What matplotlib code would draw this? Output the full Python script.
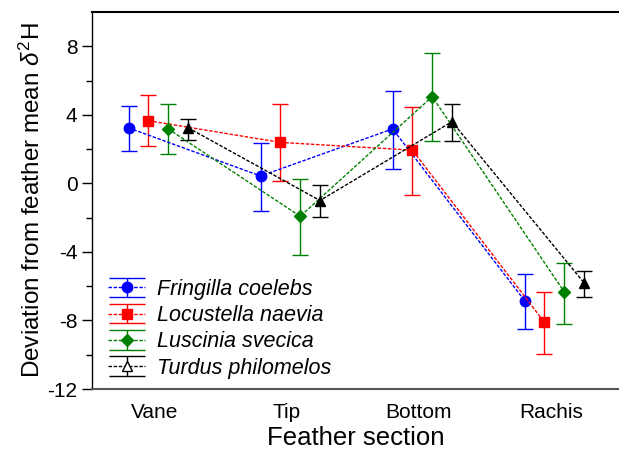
import numpy as np
import matplotlib.pyplot as plt
from matplotlib.legend_handler import HandlerErrorbar

plt.rcParams['font.family'] = ['Liberation Sans', 'DejaVu Sans']
plt.rcParams['mathtext.fontset'] = 'custom'
plt.rcParams['mathtext.rm'] = 'Liberation Sans'
plt.rcParams['mathtext.it'] = 'Liberation Sans:italic'
plt.rcParams['axes.unicode_minus'] = False

sections = ['Vane', 'Tip', 'Bottom', 'Rachis']
species = ['Fringilla coelebs', 'Locustella naevia', 'Luscinia svecica', 'Turdus philomelos']

# mean deviation and error bar ends (upper, lower) per species
means = {
    'Fringilla coelebs': [3.24, 0.43, 3.18, -6.84],
    'Locustella naevia': [3.66, 2.39, 1.94, -8.10],
    'Luscinia svecica':  [3.18, -1.92, 5.06, -6.33],
    'Turdus philomelos': [3.25, -1.00, 3.60, -5.80],
}
upper = {
    'Fringilla coelebs': [4.53, 2.37, 5.41, -5.31],
    'Locustella naevia': [5.14, 4.61, 4.43, -6.33],
    'Luscinia svecica':  [4.63, 0.25, 7.59, -4.63],
    'Turdus philomelos': [3.76, -0.08, 4.65, -5.12],
}
lower = {
    'Fringilla coelebs': [1.88, -1.63, 0.82, -8.51],
    'Locustella naevia': [2.20, 0.16, -0.69, -9.94],
    'Luscinia svecica':  [1.69, -4.20, 2.47, -8.20],
    'Turdus philomelos': [2.51, -1.98, 2.47, -6.65],
}

colors = ['#0000ff', '#ff0000', '#008000', '#000000']
markers = ['o', 's', 'D', '^']
msizes = [7.5, 7.5, 6, 7.5]
offsets = [-0.2, -0.05, 0.1, 0.25]

fig = plt.figure(figsize=(6.19, 4.55), dpi=100)
ax = fig.add_axes([0.1486, 0.145, 0.8514, 0.8286])

x = np.arange(len(sections))
handles = []
for sp, c, m, ms, off in zip(species, colors, markers, msizes, offsets):
    y = np.array(means[sp])
    err = [y - np.array(lower[sp]), np.array(upper[sp]) - y]
    ax.errorbar(x + off, y, yerr=err, color=c, marker=m, ms=ms, mec=c, mfc=c,
                ls=(0, (2.5, 1.2)), lw=1, elinewidth=1, capsize=5.5, capthick=1)
    # legend entry (open marker for the last species, as in the original)
    mfc = 'white' if sp == 'Turdus philomelos' else c
    h = ax.errorbar([np.nan], [np.nan], yerr=[1], color=c, marker=m, ms=ms, mec=c,
                    mfc=mfc, ls=(0, (2.5, 1.2)), lw=1, elinewidth=1,
                    capsize=13, capthick=1)
    handles.append(h)

ax.set_xlim(-0.477, 3.515)
ax.set_ylim(-12, 10)
ax.set_xticks(x)
ax.set_xticklabels(sections)
ax.set_yticks([-12, -8, -4, 0, 4, 8])
ax.set_yticks(np.arange(-12, 10, 2), minor=True)
ax.tick_params(axis='x', length=0, labelsize=15, pad=10)
ax.tick_params(axis='y', which='major', length=7, width=1, labelsize=15, direction='out')
ax.tick_params(axis='y', which='minor', length=4, width=1, direction='out')

ax.spines['right'].set_visible(False)
ax.spines['bottom'].set_color('#555555')
ax.spines['bottom'].set_linewidth(1.5)
ax.spines['top'].set_linewidth(1.5)
ax.spines['left'].set_linewidth(1)

ax.set_xlabel('Feather section', fontsize=18.5, labelpad=3)
ax.set_ylabel(r'Deviation from feather mean $\mathit{\delta}^2$H', fontsize=17.5, labelpad=2)

leg = ax.legend(handles, species, loc='lower left', bbox_to_anchor=(0.015, 0.005),
                frameon=False, prop={'style': 'italic', 'size': 15.5}, handlelength=1.7,
                handletextpad=0.55, labelspacing=0.24, borderaxespad=0,
                handler_map={type(handles[0]): HandlerErrorbar(yerr_size=0.45)})

fig.savefig('out.png', dpi=100)
